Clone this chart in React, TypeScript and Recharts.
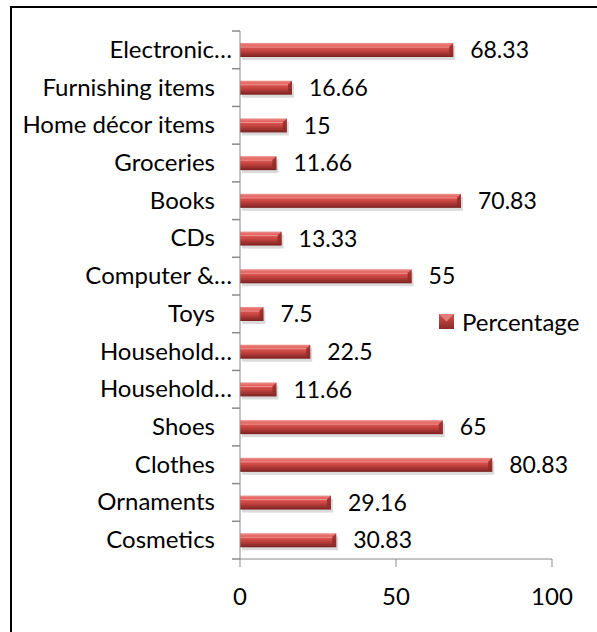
import { BarChart, Bar, XAxis, YAxis, LabelList } from "recharts";

const categories = [
  "Electronic…",
  "Furnishing items",
  "Home décor items",
  "Groceries",
  "Books",
  "CDs",
  "Computer &…",
  "Toys",
  "Household…",
  "Household…",
  "Shoes",
  "Clothes",
  "Ornaments",
  "Cosmetics",
];

const percentage = [68.33, 16.66, 15, 11.66, 70.83, 13.33, 55, 7.5, 22.5, 11.66, 65, 80.83, 29.16, 30.83];

const xTicks = [0, 50, 100];

const seriesName = "Percentage";

const data = categories.map((name, i) => ({ name, value: percentage[i] }));

const W = 597;
const H = 632;
const MARGIN = { top: 31, right: 45, bottom: 33, left: 10 };
const X_AXIS_H = 40;
const PLOT_H = H - MARGIN.top - MARGIN.bottom - X_AXIS_H;
const BAND = PLOT_H / categories.length;
const FONT = "Lato, 'Open Sans', sans-serif";
const FS = 24;
const NUM_FS = 23;
const AXIS_GRAY = "#8a8a8a";

function CategoryTick(props: any) {
  const { x, y, payload, index } = props;
  const label: string = payload.value;
  const dx = label.endsWith("…") ? 0 : -17;
  return (
    <g>
      <line x1={x} x2={x + 8} y1={y - BAND / 2} y2={y - BAND / 2} stroke={AXIS_GRAY} strokeWidth={1.5} />
      {index === categories.length - 1 && (
        <line x1={x} x2={x + 8} y1={y + BAND / 2} y2={y + BAND / 2} stroke={AXIS_GRAY} strokeWidth={1.5} />
      )}
      <text x={x + dx} y={y} dy={8} textAnchor="end" fontSize={FS} fontFamily={FONT} fill="#000">
        {label}
      </text>
    </g>
  );
}

function BarShape(props: any) {
  const { x, y, width, height } = props;
  if (!width || width <= 0) return null;
  const bev = Math.min(4, width / 2);
  return (
    <g>
      <rect x={x + 2} y={y + 3} width={width} height={height} fill="#000" opacity={0.14} />
      <rect x={x} y={y} width={width} height={height} fill="url(#barGrad)" />
      <polygon
        points={`${x + width - bev},${y + bev} ${x + width},${y} ${x + width},${y + height} ${x + width - bev},${y + height - bev}`}
        fill="#8e2b28"
        opacity={0.8}
      />
      <line x1={x} x2={x + width - bev} y1={y + bev} y2={y + bev} stroke="#f3b3b1" strokeWidth={1} opacity={0.7} />
    </g>
  );
}

export default function App() {
  return (
    <div style={{ position: "fixed", left: 0, top: 0, width: W, height: H, background: "#fff", overflow: "hidden" }}>
      <div
        style={{
          position: "absolute",
          left: 10,
          top: 6,
          width: W,
          height: H,
          borderTop: "2px solid #000",
          borderLeft: "2px solid #000",
        }}
      />
      <BarChart width={W} height={H} data={data} layout="vertical" margin={MARGIN} barCategoryGap={0}>
        <defs>
          <linearGradient id="barGrad" x1="0" y1="0" x2="0" y2="1">
            <stop offset="0%" stopColor="#ec8f8b" />
            <stop offset="25%" stopColor="#e35a55" />
            <stop offset="55%" stopColor="#c4433f" />
            <stop offset="100%" stopColor="#7a2220" />
          </linearGradient>
        </defs>
        <XAxis
          type="number"
          domain={[0, 100]}
          ticks={xTicks}
          height={X_AXIS_H}
          stroke={AXIS_GRAY}
          tickSize={8}
          tickMargin={21}
          tick={{ fill: "#000", fontSize: FS, fontFamily: FONT }}
        />
        <YAxis
          type="category"
          dataKey="name"
          width={230}
          tickSize={8}
          tickMargin={0}
          tickLine={false}
          stroke={AXIS_GRAY}
          tick={<CategoryTick />}
          interval={0}
        />
        <Bar dataKey="value" barSize={14} shape={<BarShape />} isAnimationActive={false} name={seriesName}>
          <LabelList dataKey="value" position="right" offset={17} fill="#000" fontSize={NUM_FS} fontFamily={FONT} />
        </Bar>
      </BarChart>
      <div
        style={{
          position: "absolute",
          left: 439,
          top: 307,
          display: "flex",
          alignItems: "center",
          fontFamily: FONT,
          fontSize: FS,
          color: "#000",
        }}
      >
        <svg width={15} height={15} style={{ marginRight: 8 }}>
          <defs>
            <linearGradient id="legGrad" x1="0" y1="0" x2="0" y2="1">
              <stop offset="0%" stopColor="#d2534f" />
              <stop offset="100%" stopColor="#8a2826" />
            </linearGradient>
          </defs>
          <rect x={0} y={0} width={15} height={15} fill="url(#legGrad)" />
          <polygon points="0,0 15,0 7.5,7.5" fill="#e47d7a" />
        </svg>
        <span>{seriesName}</span>
      </div>
    </div>
  );
}
